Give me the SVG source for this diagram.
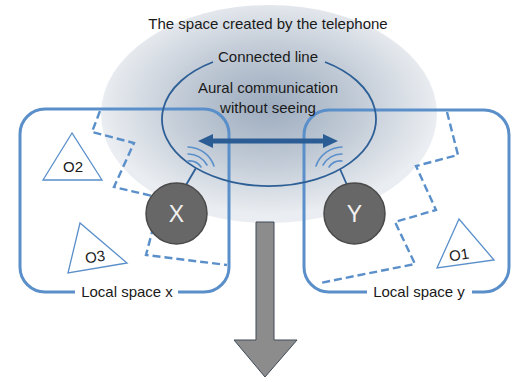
<svg xmlns="http://www.w3.org/2000/svg" width="517" height="382" viewBox="0 0 517 382">
<style>
  text { font-family: "Liberation Sans", Arial, sans-serif; fill: #1a1a1a; }
  .lbl { font-size: 15px; text-anchor: middle; }
  .space { fill: none; stroke: #5a8fca; stroke-width: 3; }
  .dash { fill: none; stroke: #5a8fca; stroke-width: 2.4; stroke-dasharray: 8 4; }
  .tri { fill: #ffffff; stroke: #5a8fca; stroke-width: 1.3; }
  .node { fill: #676767; stroke: #4a4a4a; stroke-width: 1.5; }
  .ntext { font-size: 23px; fill: #f2f2f2; text-anchor: middle; }
  .wave { fill: none; stroke: #5a8fca; stroke-width: 1.6; stroke-linecap: round; }
  .conn { fill: none; stroke: #2d5f96; stroke-width: 1.8; }
</style>
<defs>
  <radialGradient id="bg" cx="0.5" cy="0.46" r="0.5">
    <stop offset="0" stop-color="#9cabbe"/>
    <stop offset="0.55" stop-color="#c3ccd7"/>
    <stop offset="1" stop-color="#eaedf1"/>
  </radialGradient>
</defs>
<rect width="517" height="382" fill="#ffffff"/>
<g id="telephone-space">
  <ellipse cx="269" cy="114" rx="168" ry="109" fill="url(#bg)"/>
  <text class="lbl" x="268" y="29">The space created by the telephone</text>
</g>
<g id="local-space-x">
  <path class="space" d="M 75 292 H 45 A 25 25 0 0 1 20 267 V 134 A 25 25 0 0 1 45 109 H 204 A 25 25 0 0 1 229 134 V 267 A 25 25 0 0 1 204 292 H 178"/>
  <text class="lbl" x="127" y="297" font-size="14.5">Local space x</text>
  <polyline class="dash" points="100,111 92,132 134,143 114,187 161,198 146,255 227,265"/>
</g>
<g id="local-space-y">
  <path class="space" d="M 367 292 H 329 A 25 25 0 0 1 304 267 V 135 A 25 25 0 0 1 329 110 H 484 A 25 25 0 0 1 509 135 V 267 A 25 25 0 0 1 484 292 H 472"/>
  <text class="lbl" x="419" y="297" font-size="14.5">Local space y</text>
  <polyline class="dash" points="447,112 458,155 416,166 436,210 395,222 415,264 320,283"/>
</g>
<g id="connected-line">
  <path class="conn" d="M 213 62 A 107 67 0 1 0 325 62"/>
  <text class="lbl" x="268" y="62">Connected line</text>
  <text class="lbl" x="268" y="93">Aural communication</text>
  <text class="lbl" x="268" y="113">without seeing</text>
</g>
<g id="connectors">
  <path d="M 212 138.5 H 326 V 143.5 H 212 Z" fill="#2b5d94"/>
  <polygon points="198,141 213,134 213,148" fill="#2b5d94"/>
  <polygon points="338,141 323,134 323,148" fill="#2b5d94"/>
  <line class="conn" x1="186" y1="185" x2="196" y2="168" stroke-width="1.5"/>
  <line class="conn" x1="347" y1="185" x2="340" y2="169" stroke-width="1.5"/>
  <polygon points="256,222 274,222 274,340 297,340 265,377 234,340 256,340" fill="#8c8c8c" stroke="#3e4a56" stroke-width="1"/>
</g>
<g id="waves-x">
  <path class="wave" d="M 188 161 A 14 14 0 0 1 201 167"/>
  <path class="wave" d="M 188 154 A 21 21 0 0 1 207 165"/>
  <path class="wave" d="M 188 147 A 28 28 0 0 1 214 166"/>
</g>
<g id="waves-y">
  <path class="wave" d="M 342 161 A 14 14 0 0 0 329 167"/>
  <path class="wave" d="M 342 154 A 21 21 0 0 0 323 165"/>
  <path class="wave" d="M 342 147 A 28 28 0 0 0 316 166"/>
</g>
<g id="node-x">
  <circle class="node" cx="176.5" cy="213.5" r="30.5"/>
  <text class="ntext" x="176.5" y="221.5">X</text>
</g>
<g id="node-y">
  <circle class="node" cx="354.5" cy="213.5" r="30.5"/>
  <text class="ntext" x="354.5" y="221.5">Y</text>
</g>
<g id="o2">
  <polygon class="tri" points="72,133 43,180 102,180"/>
  <text class="lbl" x="73" y="172" font-size="16">O2</text>
</g>
<g id="o3">
  <polygon class="tri" points="80,223 68,273 127,263"/>
  <text class="lbl" x="95" y="262" font-size="16" transform="rotate(-9 95 256)">O3</text>
</g>
<g id="o1">
  <polygon class="tri" points="459,219 437,268 494,260"/>
  <text class="lbl" x="459" y="260" font-size="16" transform="rotate(-9 459 254)">O1</text>
</g>
</svg>
